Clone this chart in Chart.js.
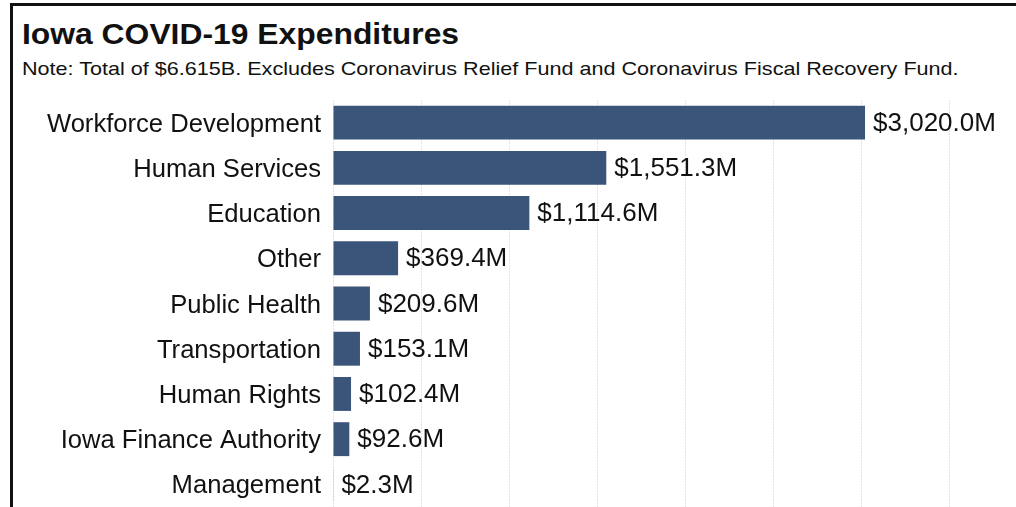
<!DOCTYPE html>
<html>
<head>
<meta charset="utf-8">
<script src="https://cdn.jsdelivr.net/npm/chart.js@4.4.1/dist/chart.umd.min.js"></script>
<style>
  html, body { margin: 0; padding: 0; background: #fff; overflow: hidden; }
  body { width: 1016px; height: 507px; position: relative; font-family: "Liberation Sans", Arial, sans-serif; }
  #frame { position: absolute; left: 10px; top: 3px; width: 1100px; height: 600px;
           border-top: 3px solid #111; border-left: 3px solid #111; }
  #title { position: absolute; left: 22px; top: 20px; font-size: 29px; font-weight: bold;
           line-height: 1; color: #111; white-space: nowrap;
           transform: scaleX(1.098); transform-origin: left top; }
  #note { position: absolute; left: 22px; top: 59px; font-size: 19px; line-height: 1;
          color: #111; white-space: nowrap;
          transform: scaleX(1.136); transform-origin: left top; }
  #wrap { position: absolute; left: 0; top: 0; width: 1016px; height: 507px; }
</style>
</head>
<body>
<div id="frame"></div>
<div id="title">Iowa COVID-19 Expenditures</div>
<div id="note">Note: Total of $6.615B. Excludes Coronavirus Relief Fund and Coronavirus Fiscal Recovery Fund.</div>
<div id="wrap"><canvas id="chart"></canvas></div>

<script>
// ---------- Data ----------
const categories = [
  "Workforce Development",
  "Human Services",
  "Education",
  "Other",
  "Public Health",
  "Transportation",
  "Human Rights",
  "Iowa Finance Authority",
  "Management"
];
const spending = [3020.0, 1551.3, 1114.6, 369.4, 209.6, 153.1, 102.4, 92.6, 2.3]; // $M
const gridValues = [0, 500, 1000, 1500, 2000, 2500, 3000, 3500]; // x gridlines ($M), unlabeled

// ---------- Helpers ----------
function money(v) {
  return "$" + v.toLocaleString("en-US", { minimumFractionDigits: 1, maximumFractionDigits: 1 }) + "M";
}

// value labels at the end of each bar
const barLabels = {
  id: "barLabels",
  afterDatasetsDraw(chart) {
    const ctx = chart.ctx;
    const meta = chart.getDatasetMeta(0);
    ctx.save();
    ctx.font = "26px 'Liberation Sans', Arial, sans-serif";
    ctx.fillStyle = "#111";
    ctx.textAlign = "left";
    ctx.textBaseline = "middle";
    meta.data.forEach((bar, i) => {
      ctx.fillText(money(spending[i]), bar.x + 8, bar.y + 1);
    });
    ctx.restore();
  }
};

// ---------- Chart ----------
new Chart(document.getElementById("chart"), {
  type: "bar",
  data: {
    labels: categories,
    datasets: [{
      data: spending,
      backgroundColor: "#3b5479",
      borderWidth: 0,
      barPercentage: 0.75,
      categoryPercentage: 1.0
    }]
  },
  options: {
    indexAxis: "y",
    responsive: true,
    maintainAspectRatio: false,
    animation: false,
    layout: { padding: { top: 100, right: 0, bottom: 0, left: 0 } },
    plugins: {
      legend: { display: false },
      tooltip: { enabled: false }
    },
    scales: {
      x: {
        min: 0,
        max: 3877,
        ticks: { display: false },
        border: { display: false, dash: [2, 1] },
        grid: { drawTicks: false, lineWidth: 1, color: "#e3e3e3" },
        afterBuildTicks(scale) {
          scale.ticks = gridValues.map((v) => ({ value: v }));
        },
        afterFit(scale) { scale.height = 0; }
      },
      y: {
        ticks: {
          color: "#111",
          padding: 12,
          labelOffset: 2,
          font: { family: "'Liberation Sans', Arial, sans-serif", size: 25.6 }
        },
        grid: { display: false, drawTicks: false },
        border: { display: false },
        afterFit(scale) {
          scale.width = 333;
          // let the bottom band run to the edge of the canvas
          scale.paddingTop = 0;
          scale.paddingBottom = 0;
        }
      }
    }
  },
  plugins: [barLabels]
});
</script>
</body>
</html>
